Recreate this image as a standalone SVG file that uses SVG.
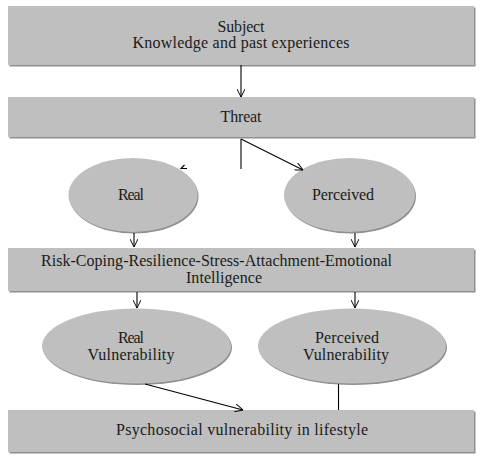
<svg xmlns="http://www.w3.org/2000/svg" width="481" height="458" viewBox="0 0 481 458">
<defs>
<style>
.box{fill:#bfbfbf;}
.sh{fill:#8f8f8f;}
.t{font-family:"Liberation Serif","Times New Roman",serif;font-size:16px;fill:#1a1a1a;text-anchor:middle;}
.c{stroke:#000;stroke-width:1.1;fill:none;}
</style>
<marker id="a" viewBox="0 0 10 10" refX="10" refY="5" markerWidth="8" markerHeight="8" markerUnits="userSpaceOnUse" orient="auto">
<path d="M0,0 L10,5 L0,10" fill="none" stroke="#000" stroke-width="1.2"/>
</marker>
</defs>
<rect width="481" height="458" fill="#fff"/>
<g id="subject">
<rect class="sh" x="9.5" y="7.5" width="466" height="59"/>
<rect class="box" x="8" y="6" width="466" height="59"/>
<text class="t" x="241" y="32" textLength="47">Subject</text>
<text class="t" x="241" y="48" textLength="217" lengthAdjust="spacing">Knowledge  and  past  experiences</text>
</g>
<g id="threat">
<rect class="sh" x="9.5" y="98.5" width="466" height="40"/>
<rect class="box" x="8" y="97" width="466" height="40"/>
<text class="t" x="241" y="122" textLength="41">Threat</text>
</g>
<g id="real">
<ellipse class="sh" cx="134" cy="196.5" rx="64.5" ry="37"/>
<ellipse class="box" cx="133" cy="195" rx="64.5" ry="37"/>
<text class="t" x="131" y="200" textLength="26">Real</text>
</g>
<g id="perceived">
<ellipse class="sh" cx="350.5" cy="196.5" rx="65.5" ry="37"/>
<ellipse class="box" cx="349.5" cy="195" rx="65.5" ry="37"/>
<text class="t" x="343" y="200" textLength="62">Perceived</text>
</g>
<g id="factors">
<rect class="sh" x="9.5" y="249.5" width="466" height="43"/>
<rect class="box" x="8" y="248" width="466" height="43"/>
<text class="t" x="216.5" y="266" textLength="351" lengthAdjust="spacing">Risk-Coping-Resilience-Stress-Attachment-Emotional</text>
<text class="t" x="224" y="283" textLength="76">Intelligence</text>
</g>
<g id="real-vulnerability">
<ellipse class="sh" cx="137.5" cy="347.5" rx="94.5" ry="37.5"/>
<ellipse class="box" cx="136.5" cy="346" rx="94.5" ry="37.5"/>
<text class="t" x="131" y="343" textLength="26">Real</text>
<text class="t" x="131" y="360" textLength="87">Vulnerability</text>
</g>
<g id="perceived-vulnerability">
<ellipse class="sh" cx="353" cy="347.5" rx="94" ry="37.5"/>
<ellipse class="box" cx="352" cy="346" rx="94" ry="37.5"/>
<text class="t" x="347" y="343" textLength="64">Perceived</text>
<text class="t" x="346" y="360" textLength="86">Vulnerability</text>
</g>
<g id="lifestyle">
<rect class="sh" x="9.5" y="411.5" width="466" height="42"/>
<rect class="box" x="8" y="410" width="466" height="42"/>
<text class="t" x="242" y="435" textLength="252" lengthAdjust="spacing">Psychosocial  vulnerability  in lifestyle</text>
</g>
<g id="connectors">
<line class="c" x1="241" y1="65" x2="241" y2="97" marker-end="url(#a)"/>
<line class="c" x1="241" y1="139" x2="241" y2="169"/>
<line class="c" x1="241" y1="139" x2="303" y2="170" marker-end="url(#a)"/>
<path class="c" d="M187,168.5 L181,168.5 L184.5,165"/>
<line class="c" x1="134" y1="233" x2="134" y2="247" marker-end="url(#a)"/>
<line class="c" x1="355" y1="233" x2="355" y2="247" marker-end="url(#a)"/>
<line class="c" x1="137" y1="292" x2="137" y2="308" marker-end="url(#a)"/>
<line class="c" x1="355" y1="292" x2="355" y2="308" marker-end="url(#a)"/>
<line class="c" x1="145" y1="384" x2="243" y2="410" marker-end="url(#a)"/>
<line class="c" x1="338.5" y1="384" x2="338.5" y2="410"/>
</g>
</svg>
